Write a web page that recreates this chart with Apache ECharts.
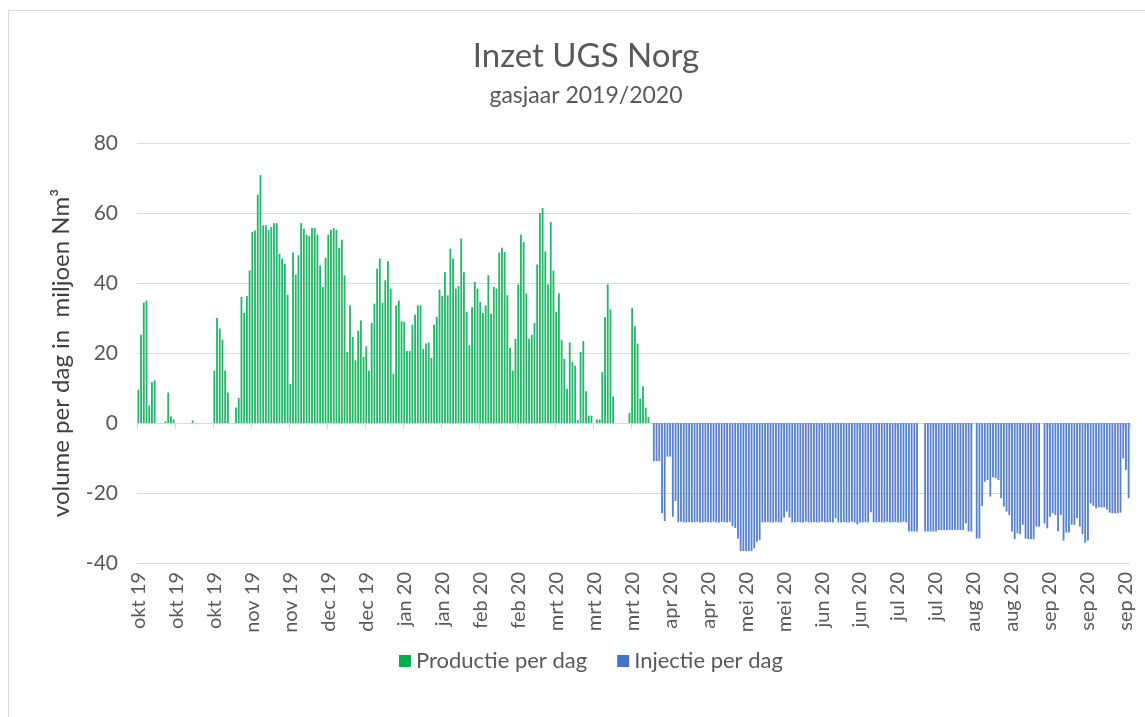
<!DOCTYPE html>
<html>
<head>
<meta charset="utf-8">
<script src="https://cdn.jsdelivr.net/npm/echarts@6/dist/echarts.min.js"></script>
<style>
html,body{margin:0;padding:0;background:#fff;overflow:hidden}
#frame{position:absolute;left:8px;top:10px;width:1300px;height:900px;border:1px solid #d9d9d9;box-sizing:border-box}
#chart{position:absolute;left:0;top:0;width:1145px;height:717px}
</style>
</head>
<body>
<div id="frame"></div>
<div id="chart"></div>
<script>
// gasjaar 2019/2020: 1 okt 2019 t/m 30 sep 2020 (366 dagen)
var startDatum = new Date(2019, 9, 1);
var aantalDagen = 366;
var maanden = ["jan","feb","mrt","apr","mei","jun","jul","aug","sep","okt","nov","dec"];

// productie per dag (miljoen Nm3), 1 okt 2019 .. 6 apr 2020
var productie = [
  9.5, 25.2, 34.4, 35, 5, 11.7, 12.2, 0, 0, 0,
  0.5, 8.7, 1.9, 1.0, 0, 0, 0, 0, 0, 0,
  0.7, 0, 0, 0, 0, 0, 0, 0, 15, 30,
  27, 23.8, 15, 8.7, 0, 0, 4.4, 7.2, 36, 31.5,
  36.3, 43.6, 54.6, 55, 65.2, 70.8, 56.5, 56.5, 55.2, 56,
  57.1, 57.1, 48.4, 47, 45.5, 36.7, 11.2, 48.7, 42.4, 47.9,
  57.1, 55.5, 53.8, 53.4, 55.7, 55.7, 53.8, 45, 38.9, 47.2,
  53.8, 55.2, 55.7, 55.2, 50, 52.4, 42.2, 20.3, 33.6, 24.6,
  17.9, 26.3, 29.3, 18.9, 21.9, 15, 28.6, 34.1, 44.1, 47,
  34.4, 40.8, 46.2, 38.4, 14.1, 33.6, 35, 29.1, 28.9, 20.6,
  20.6, 28.1, 31, 33.6, 33.6, 21.2, 22.7, 23, 18.6, 28.1,
  30.3, 38.1, 36.3, 43.1, 36.5, 49.8, 47, 38.4, 39.1, 52.7,
  43.1, 31.7, 22.2, 33.1, 40.3, 38.4, 34.6, 31.4, 33.6, 42.2,
  31.2, 38.9, 38.4, 48.7, 50.1, 48.9, 36.5, 21.5, 15, 24,
  39.6, 53.8, 51.7, 37, 24.1, 25.2, 28.6, 45.3, 60, 61.4,
  49, 39.6, 57.4, 43.6, 31.7, 37, 23.8, 18.3, 9.8, 23,
  17.4, 16.4, 0.8, 20.3, 23.4, 9.1, 2.1, 2.1, 0, 1,
  1, 14.6, 30.3, 39.6, 32.4, 7.6, 0, 0, 0, 0,
  0, 2.9, 32.9, 27.7, 22.7, 7, 10.5, 4.4, 1.7
];

// injectie per dag (miljoen Nm3), 7 apr 2020 .. 30 sep 2020
var injectie = [
  0, -10.9, -10.9, -10.9, -25.8, -28, -9.6, -9.6, -26.8, -22.3,
  -28.4, -28.2, -28.4, -28.4, -28.3, -28.4, -28.4, -28.2, -28.4, -28.4,
  -28.3, -28.4, -28.4, -28.2, -28.4, -28.4, -28.3, -28.4, -28.4, -28.2,
  -29.5, -30, -33, -36.6, -36.6, -36.6, -36.6, -36.6, -35.8, -33.9,
  -33.4, -28.4, -28.4, -28.3, -28.4, -28.4, -28.2, -28.4, -28.4, -27,
  -25.3, -27, -28.4, -28.4, -28.3, -28.4, -28.4, -28.2, -28.4, -28.4,
  -28.3, -28.4, -28.4, -28.2, -28.4, -28.4, -28.3, -28.4, -27.2, -28.4,
  -28.4, -28.3, -28.4, -28.4, -28.2, -28.4, -29, -28.4, -28.4, -28.3,
  -28.4, -25.5, -28.4, -28.4, -28.3, -28.4, -28.4, -28.2, -28.4, -28.4,
  -28.3, -28.4, -28.4, -28.2, -28.4, -31, -31, -31, -31, 0,
  0, -31, -31, -31, -31, -31, -30.6, -30.6, -30.6, -30.6,
  -30.6, -30.6, -30.6, -30.6, -30.6, -30.6, -28.7, -31, -31, 0,
  -33, -33, -23.7, -16.8, -16.3, -21, -15.5, -15.8, -16.3, -21.5,
  -23.9, -25.3, -26.3, -31, -33.2, -31.5, -31.7, -29.1, -33, -33.2,
  -33.2, -33.2, -29.6, -29.6, 0, -28.7, -30.1, -26.8, -25.8, -26.3,
  -31, -26.3, -33.6, -31.3, -31.3, -29.1, -29.1, -27.2, -29.6, -31.7,
  -34.2, -33.6, -23, -23.7, -24.4, -24.1, -24.1, -24.1, -24.7, -25.6,
  -25.8, -25.8, -25.8, -25.6, -10.1, -13.4, -21.5
];

var yTicks = [-40, -20, 0, 20, 40, 60, 80];

var dagen = [];
for (var i = 0; i < aantalDagen; i++) {
  var d = new Date(startDatum.getFullYear(), startDatum.getMonth(), startDatum.getDate() + i);
  dagen.push(d.getFullYear() + "-" + (d.getMonth() + 1) + "-" + d.getDate());
}

// productie loopt tot en met dag 188, injectie begint op dag 189
var productieVol = [];
var injectieVol = [];
for (var j = 0; j < aantalDagen; j++) {
  productieVol.push(j < productie.length ? productie[j] : 0);
  var k = j - (aantalDagen - injectie.length);
  injectieVol.push(k >= 0 ? injectie[k] : 0);
}

function maandLabel(v) {
  var p = v.split("-");
  return maanden[parseInt(p[1], 10) - 1] + " " + p[0].substring(2);
}

var fontFam = "Lato, 'Open Sans', sans-serif";

var myChart = echarts.init(document.getElementById("chart"));
myChart.setOption({
  animation: false,
  textStyle: { fontFamily: fontFam },
  title: {
    text: "Inzet UGS Norg",
    subtext: "gasjaar 2019/2020",
    left: 581,
    top: 35,
    textAlign: "center",
    itemGap: 11,
    textStyle: { fontFamily: fontFam, fontSize: 33, fontWeight: "normal", color: "#595959" },
    subtextStyle: { fontFamily: fontFam, fontSize: 23, color: "#595959" }
  },
  legend: {
    data: [
      { name: "Productie per dag", itemStyle: { color: "#00b050" } },
      { name: "Injectie per dag", itemStyle: { color: "#4472c4" } }
    ],
    left: 394,
    top: 645,
    icon: "rect",
    itemWidth: 12,
    itemHeight: 12,
    itemGap: 30,
    textStyle: { fontFamily: fontFam, fontSize: 22, color: "#595959" }
  },
  grid: {
    left: 137,
    right: 15,
    top: 143,
    bottom: 154,
    containLabel: false
  },
  xAxis: [
    {
      type: "category",
      data: dagen,
      position: "bottom",
      axisLine: { show: false, onZero: false },
      axisTick: { show: false },
      axisLabel: {
        interval: 13,
        rotate: 90,
        margin: 9,
        fontSize: 20,
        color: "#595959",
        fontFamily: fontFam,
        formatter: maandLabel
      },
      splitLine: { show: false }
    },
    {
      type: "category",
      data: dagen,
      position: "top",
      axisLine: { show: true, onZero: true, lineStyle: { color: "#d9d9d9", width: 1 } },
      axisTick: { show: true, interval: 13, inside: true, length: 6, lineStyle: { color: "#d9d9d9" } },
      axisLabel: { show: false },
      splitLine: { show: false }
    }
  ],
  yAxis: {
    type: "value",
    min: yTicks[0],
    max: yTicks[yTicks.length - 1],
    interval: 20,
    name: "volume per dag in  miljoen Nm\u00b3",
    nameLocation: "middle",
    nameRotate: 90,
    nameGap: 64,
    nameTextStyle: { fontFamily: fontFam, fontSize: 24, color: "#404040" },
    axisLine: { show: false },
    axisTick: { show: false },
    axisLabel: { margin: 19, fontSize: 21, color: "#595959", fontFamily: fontFam },
    splitLine: { lineStyle: { color: "#d9d9d9", width: 1 } }
  },
  series: [
    {
      name: "Productie per dag",
      type: "bar",
      xAxisIndex: 0,
      data: productieVol,
      barWidth: "68%",
      barGap: "-100%",
      itemStyle: { color: "#24b86a" }
    },
    {
      name: "Injectie per dag",
      type: "bar",
      xAxisIndex: 0,
      data: injectieVol,
      barWidth: "68%",
      barGap: "-100%",
      itemStyle: { color: "#5a82cc" }
    }
  ]
});
</script>
</body>
</html>
